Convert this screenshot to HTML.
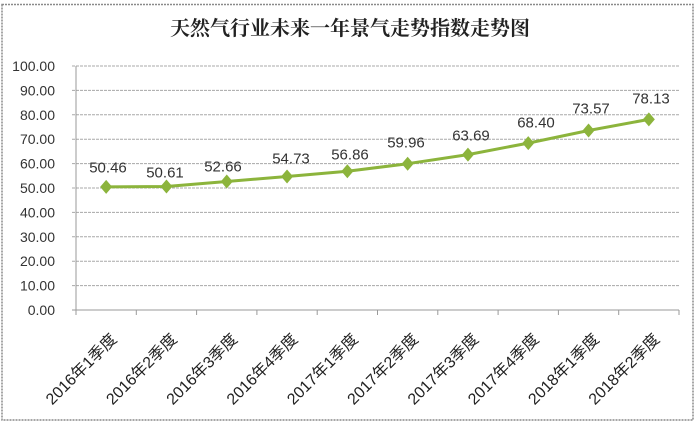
<!DOCTYPE html>
<html><head><meta charset="utf-8"><style>
html,body{margin:0;padding:0;background:#fff;}
svg{display:block;}
</style></head><body>
<svg width="698" height="423" viewBox="0 0 698 423" xmlns="http://www.w3.org/2000/svg">
<rect x="0" y="0" width="698" height="423" fill="#fff"/>
<rect x="2" y="4.5" width="691" height="415.5" fill="none" stroke="#8a8a8a" stroke-width="1.5" stroke-dasharray="2,1"/>
<text x="350" y="35" text-anchor="middle" font-family="'Liberation Serif','Noto Serif CJK SC',serif" font-size="20" font-weight="bold" fill="#222">天然气行业未来一年景气走势指数走势图</text>
<g stroke="#a8a8a8" stroke-width="1" stroke-dasharray="3,1">
<line x1="72" y1="66" x2="679" y2="66"/>
<line x1="72" y1="90.4" x2="679" y2="90.4"/>
<line x1="72" y1="114.8" x2="679" y2="114.8"/>
<line x1="72" y1="139.2" x2="679" y2="139.2"/>
<line x1="72" y1="163.6" x2="679" y2="163.6"/>
<line x1="72" y1="188" x2="679" y2="188"/>
<line x1="72" y1="212.4" x2="679" y2="212.4"/>
<line x1="72" y1="236.8" x2="679" y2="236.8"/>
<line x1="72" y1="261.2" x2="679" y2="261.2"/>
<line x1="72" y1="285.6" x2="679" y2="285.6"/>
</g>
<g stroke="#9a9a9a" stroke-width="1">
<line x1="76" y1="66" x2="76" y2="310"/>
<line x1="72" y1="310" x2="679" y2="310"/>
<line x1="76" y1="310" x2="76" y2="315"/>
<line x1="136.3" y1="310" x2="136.3" y2="315"/>
<line x1="196.6" y1="310" x2="196.6" y2="315"/>
<line x1="256.9" y1="310" x2="256.9" y2="315"/>
<line x1="317.2" y1="310" x2="317.2" y2="315"/>
<line x1="377.5" y1="310" x2="377.5" y2="315"/>
<line x1="437.8" y1="310" x2="437.8" y2="315"/>
<line x1="498.1" y1="310" x2="498.1" y2="315"/>
<line x1="558.4" y1="310" x2="558.4" y2="315"/>
<line x1="618.7" y1="310" x2="618.7" y2="315"/>
<line x1="679" y1="310" x2="679" y2="315"/>
</g>
<g font-family="'Liberation Sans',sans-serif" font-size="14" fill="#333" text-anchor="end" dominant-baseline="central">
<text x="55" y="66">100.00</text>
<text x="55" y="90.4">90.00</text>
<text x="55" y="114.8">80.00</text>
<text x="55" y="139.2">70.00</text>
<text x="55" y="163.6">60.00</text>
<text x="55" y="188">50.00</text>
<text x="55" y="212.4">40.00</text>
<text x="55" y="236.8">30.00</text>
<text x="55" y="261.2">20.00</text>
<text x="55" y="285.6">10.00</text>
<text x="55" y="310">0.00</text>
</g>
<polyline fill="none" stroke="#8cb43c" stroke-width="3" stroke-linejoin="round" points="106.15,186.9 166.45,186.5 226.75,181.5 287.05,176.5 347.35,171.3 407.65,163.7 467.95,154.6 528.25,143.1 588.55,130.5 648.85,119.4"/>
<g fill="#8cb43c">
<polygon points="106.15,179.9 112.15,186.9 106.15,193.9 100.15,186.9"/>
<polygon points="166.45,179.5 172.45,186.5 166.45,193.5 160.45,186.5"/>
<polygon points="226.75,174.5 232.75,181.5 226.75,188.5 220.75,181.5"/>
<polygon points="287.05,169.5 293.05,176.5 287.05,183.5 281.05,176.5"/>
<polygon points="347.35,164.3 353.35,171.3 347.35,178.3 341.35,171.3"/>
<polygon points="407.65,156.7 413.65,163.7 407.65,170.7 401.65,163.7"/>
<polygon points="467.95,147.6 473.95,154.6 467.95,161.6 461.95,154.6"/>
<polygon points="528.25,136.1 534.25,143.1 528.25,150.1 522.25,143.1"/>
<polygon points="588.55,123.5 594.55,130.5 588.55,137.5 582.55,130.5"/>
<polygon points="648.85,112.4 654.85,119.4 648.85,126.4 642.85,119.4"/>
</g>
<g font-family="'Liberation Sans',sans-serif" font-size="15" fill="#333" text-anchor="middle" dominant-baseline="central">
<text x="108" y="168">50.46</text>
<text x="165" y="173">50.61</text>
<text x="223" y="167">52.66</text>
<text x="291" y="159">54.73</text>
<text x="350" y="155">56.86</text>
<text x="406" y="143">59.96</text>
<text x="471" y="136">63.69</text>
<text x="536" y="123">68.40</text>
<text x="591" y="109">73.57</text>
<text x="651" y="99">78.13</text>
</g>
<g font-family="'Liberation Sans','Noto Sans CJK SC',sans-serif" font-size="16" fill="#222" text-anchor="end" dominant-baseline="central">
<text transform="translate(114.5,337) rotate(-45)">2016年1季度</text>
<text transform="translate(174.8,337) rotate(-45)">2016年2季度</text>
<text transform="translate(235.1,337) rotate(-45)">2016年3季度</text>
<text transform="translate(295.4,337) rotate(-45)">2016年4季度</text>
<text transform="translate(355.7,337) rotate(-45)">2017年1季度</text>
<text transform="translate(416,337) rotate(-45)">2017年2季度</text>
<text transform="translate(476.3,337) rotate(-45)">2017年3季度</text>
<text transform="translate(536.6,337) rotate(-45)">2017年4季度</text>
<text transform="translate(596.9,337) rotate(-45)">2018年1季度</text>
<text transform="translate(657.2,337) rotate(-45)">2018年2季度</text>
</g>
</svg>
</body></html>
